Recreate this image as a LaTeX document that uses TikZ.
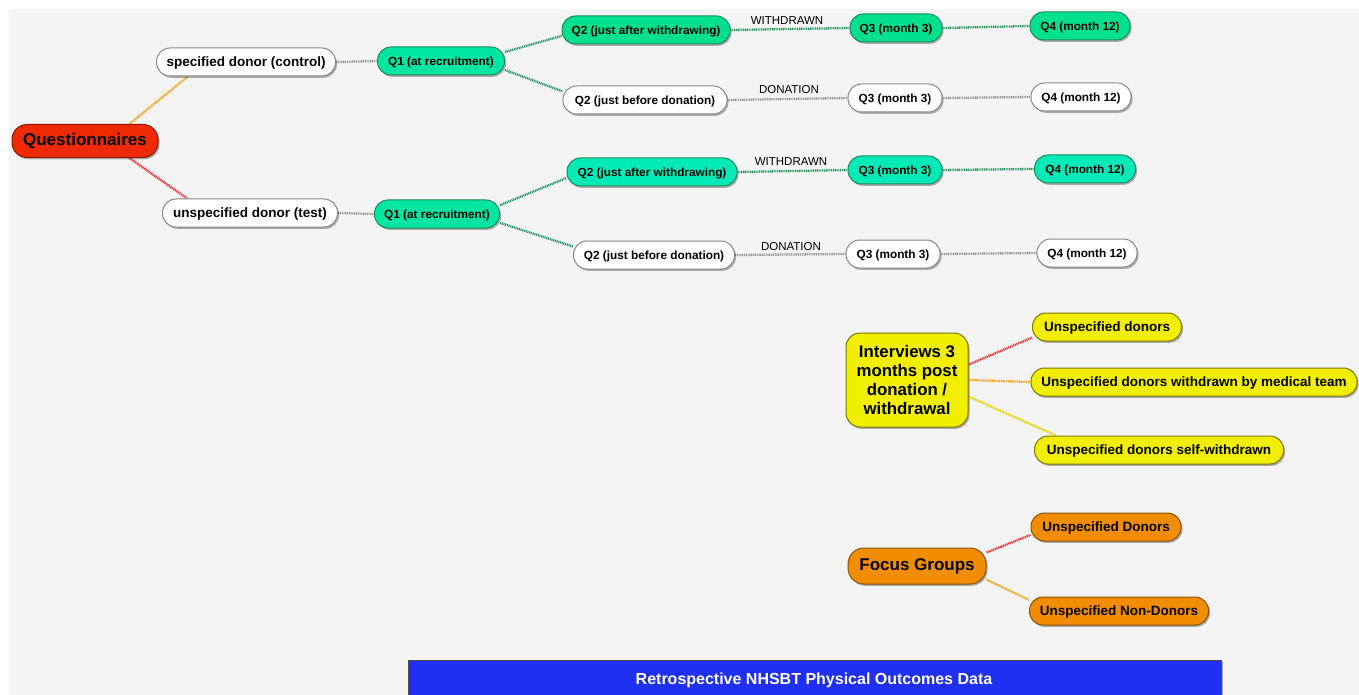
\documentclass[tikz,border=0pt]{standalone}
\usepackage{fontspec}
\setmainfont{Liberation Sans}
\usetikzlibrary{shadows,backgrounds}
\definecolor{bg}{HTML}{F4F4F4}
\definecolor{redfill}{HTML}{F02A00}
\definecolor{redline}{HTML}{8E1800}
\definecolor{tealA}{HTML}{00E08E}
\definecolor{tealB}{HTML}{00E6A2}
\definecolor{tealC}{HTML}{00EAB8}
\definecolor{tealline}{HTML}{1F8A5A}
\definecolor{greyline}{HTML}{8A8A8A}
\definecolor{yelfill}{HTML}{F2EE00}
\definecolor{yelline}{HTML}{7C7A00}
\definecolor{orfill}{HTML}{F28C00}
\definecolor{orline}{HTML}{8A5200}
\definecolor{bluefill}{HTML}{1F30F2}
\definecolor{cOrange}{HTML}{F5A623}
\definecolor{cRed}{HTML}{F03838}
\definecolor{cGreen}{HTML}{2E9A68}
\definecolor{cGrey}{HTML}{9A9A9A}
\definecolor{cYellow}{HTML}{E6D400}
\tikzset{
  shad/.style={drop shadow={shadow xshift=1.5pt, shadow yshift=-1.8pt, opacity=0.3, fill=black}},
  pill/.style={draw, line width=1pt, rounded corners=13.5pt, minimum height=28pt,
    inner xsep=0pt, inner ysep=0pt, shad, text height=0.92em, text depth=0pt},
  qbox/.style={pill, font=\bfseries\fontsize{11.8}{14}\selectfont},
  dbox/.style={pill, font=\bfseries\fontsize{13.5}{16}\selectfont},
  whitebox/.style={fill=white, draw=greyline},
  tA/.style={fill=tealA, draw=tealline},
  tB/.style={fill=tealB, draw=tealline},
  tC/.style={fill=tealC, draw=tealline},
  yel/.style={fill=yelfill, draw=yelline},
  orn/.style={fill=orfill, draw=orline},
  conn/.style={line width=2.3pt, dash pattern=on 1.1pt off 0.7pt},
  elabel/.style={font=\fontsize{11.5}{13}\selectfont, inner sep=0pt},
}
\begin{document}
\begin{tikzpicture}[x=1pt,y=-1pt]
\useasboundingbox (0,0) rectangle (1359,695);

% root
\node[pill, fill=redfill, draw=redline, minimum width=146pt, minimum height=33pt, rounded corners=15pt,
  font=\bfseries\fontsize{17}{20}\selectfont] (q) at (85,141) {Questionnaires};

% donors
\node[dbox, whitebox, minimum width=179pt] (s) at (246,62) {specified donor (control)};
\node[dbox, whitebox, minimum width=175pt] (u) at (250,213) {unspecified donor (test)};

% Q1
\node[qbox, tB, minimum width=127pt] (q1a) at (441,61) {Q1 (at recruitment)};
\node[qbox, tB, minimum width=125pt] (q1b) at (437,214) {Q1 (at recruitment)};

% upper branch
\node[qbox, tA, minimum width=168pt] (q2aw) at (646,30) {Q2 (just after withdrawing)};
\node[qbox, tA, minimum width=92pt] (q3aw) at (896,28) {Q3 (month 3)};
\node[qbox, tA, minimum width=100pt] (q4aw) at (1080,26) {Q4 (month 12)};
\node[qbox, whitebox, minimum width=164pt] (q2ad) at (645,100) {Q2 (just before donation)};
\node[qbox, whitebox, minimum width=94pt] (q3ad) at (895,98) {Q3 (month 3)};
\node[qbox, whitebox, minimum width=100pt] (q4ad) at (1081,97) {Q4 (month 12)};

% lower branch
\node[qbox, tC, minimum width=170pt] (q2bw) at (652,172) {Q2 (just after withdrawing)};
\node[qbox, tC, minimum width=94pt] (q3bw) at (895,170) {Q3 (month 3)};
\node[qbox, tC, minimum width=101pt] (q4bw) at (1085,169) {Q4 (month 12)};
\node[qbox, whitebox, minimum width=161pt] (q2bd) at (654,255) {Q2 (just before donation)};
\node[qbox, whitebox, minimum width=94pt] (q3bd) at (893,254) {Q3 (month 3)};
\node[qbox, whitebox, minimum width=100pt] (q4bd) at (1087,253) {Q4 (month 12)};

% edge labels
\node[elabel] (l1) at (787,21) {WITHDRAWN};
\node[elabel] (l2) at (789,90) {DONATION};
\node[elabel] (l3) at (791,162) {WITHDRAWN};
\node[elabel] (l4) at (791,247) {DONATION};

% interviews
\node[draw, line width=1pt, yel, rounded corners=14pt, minimum width=122pt, minimum height=94pt,
  inner sep=0pt, shad, align=center, font=\bfseries\fontsize{16.8}{19}\selectfont] (iv) at (907,380)
  {Interviews 3\\months post\\donation /\\withdrawal};
\node[dbox, yel, minimum width=149pt] (iv1) at (1107,327) {Unspecified donors};
\node[dbox, yel, minimum width=326pt] (iv2) at (1194,382) {Unspecified donors withdrawn by medical team};
\node[dbox, yel, minimum width=249pt] (iv3) at (1159,450) {Unspecified donors self-withdrawn};

% focus groups
\node[pill, orn, minimum width=138pt, minimum height=36pt, rounded corners=16pt,
  font=\bfseries\fontsize{17}{20}\selectfont] (fg) at (917,566) {Focus Groups};
\node[dbox, orn, minimum width=150pt] (fg1) at (1106,527) {Unspecified Donors};
\node[dbox, orn, minimum width=179pt] (fg2) at (1119,611) {Unspecified Non-Donors};

% blue bar
\begin{scope}
\clip (0,0) rectangle (1359,695);
\node[draw=black!70, line width=0.8pt, fill=bluefill, minimum width=813pt, minimum height=44pt,
  inner sep=0pt, anchor=north, shad] (bar) at (814.5,660) {};
\node[text=white, font=\bfseries\fontsize{16}{18}\selectfont, inner sep=0pt,
  text height=0.92em, text depth=0pt] (bartext) at (814,680)
  {Retrospective NHSBT Physical Outcomes Data};
\end{scope}

% background and connectors
\begin{pgfonlayer}{background}
\fill[bg] (9,9) rectangle (1359,695);
\draw[conn, cOrange] (q.21) -- (s.194);
\draw[conn, cRed] (q.-21) -- (u.167);
\draw[conn, cGrey] (s.east) -- (q1a.west);
\draw[conn, cGrey] (u.east) -- (q1b.west);
\draw[conn, cGreen] (q1a.8) -- (q2aw.184);
\draw[conn, cGreen] (q1a.-8) -- (q2ad.174);
\draw[conn, cGreen] (q1b.8) -- (q2bw.184);
\draw[conn, cGreen] (q1b.-8) -- (q2bd.174);
\draw[conn, cGreen] (q2aw.east) -- (q3aw.west);
\draw[conn, cGreen] (q3aw.east) -- (q4aw.west);
\draw[conn, cGrey] (q2ad.east) -- (q3ad.west);
\draw[conn, cGrey] (q3ad.east) -- (q4ad.west);
\draw[conn, cGreen] (q2bw.east) -- (q3bw.west);
\draw[conn, cGreen] (q3bw.east) -- (q4bw.west);
\draw[conn, cGrey] (q2bd.east) -- (q3bd.west);
\draw[conn, cGrey] (q3bd.east) -- (q4bd.west);
\draw[conn, cRed] (iv.14) -- (iv1.188);
\draw[conn, cOrange] (iv.east) -- (iv2.west);
\draw[conn, cYellow] (iv.-15) -- (iv3.172);
\draw[conn, cRed] (fg.11) -- (fg1.186);
\draw[conn, cOrange] (fg.-11) -- (fg2.173);
\end{pgfonlayer}
\end{tikzpicture}
\end{document}
